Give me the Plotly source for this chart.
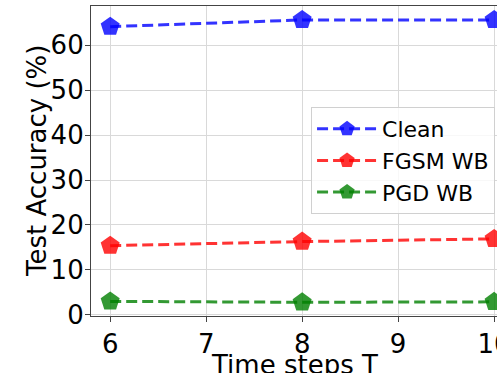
import plotly.graph_objects as go

time_steps = [6, 8, 10]
clean = [64.1, 65.6, 65.6]
fgsm_wb = [15.4, 16.3, 16.9]
pgd_wb = [3.0, 2.8, 2.9]
x_ticks = [6, 7, 8, 9, 10]
y_ticks = [0, 10, 20, 30, 40, 50, 60]
x_title = "Time steps T"
y_title = "Test Accuracy (%)"

series = [
    ("Clean", clean, "rgba(0,0,255,0.8)"),
    ("FGSM WB", fgsm_wb, "rgba(255,0,0,0.8)"),
    ("PGD WB", pgd_wb, "rgba(0,128,0,0.8)"),
]

fig = go.Figure()
for name, vals, col in series:
    fig.add_trace(go.Scatter(
        x=time_steps, y=vals, name=name, mode="lines+markers",
        line=dict(color=col, width=3, dash="11px,5px"),
        marker=dict(symbol="pentagon", size=20, color=col, line=dict(width=0)),
        cliponaxis=False,
    ))

font = "DejaVu Sans, sans-serif"
fig.update_layout(
    width=497, height=373,
    margin=dict(l=91, r=0, t=6, b=57, autoexpand=False),
    paper_bgcolor="white", plot_bgcolor="white",
    font=dict(family=font, size=26, color="black"),
    showlegend=True,
    legend=dict(
        x=0.542, y=0.674, xanchor="left", yanchor="top",
        font=dict(size=22, family=font),
        bgcolor="rgba(255,255,255,0.8)", bordercolor="#d0d0d0", borderwidth=1,
        itemwidth=60,
    ),
    annotations=[
        dict(text=x_title, xref="paper", yref="paper", x=0.5, y=-0.158,
             xanchor="center", yanchor="middle", showarrow=False,
             font=dict(size=26, family=font, color="black")),
        dict(text=y_title, xref="paper", yref="paper", x=-0.133, y=0.5,
             xanchor="center", yanchor="middle", showarrow=False, textangle=-90,
             font=dict(size=26, family=font, color="black")),
    ],
)
fig.update_xaxes(
    range=[5.8, 10.03], tickvals=x_ticks, ticktext=[str(v) for v in x_ticks],
    showgrid=True, gridcolor="#d9d9d9", gridwidth=1,
    showline=True, linecolor="#444", linewidth=1.2, mirror=True,
    ticks="outside", ticklen=5, tickcolor="#444",
    zeroline=False, automargin=False, ticklabeloverflow="allow",
)
fig.update_yaxes(
    range=[-0.25, 68.7], tickvals=y_ticks,
    showgrid=True, gridcolor="#d9d9d9", gridwidth=1,
    showline=True, linecolor="#444", linewidth=1.2, mirror=False,
    ticks="outside", ticklen=5, tickcolor="#444",
    zeroline=False, automargin=False, ticklabelstandoff=-4,
)

fig.write_html("out.html", config={"displayModeBar": False},
               post_script="document.body.style.margin='0';")
